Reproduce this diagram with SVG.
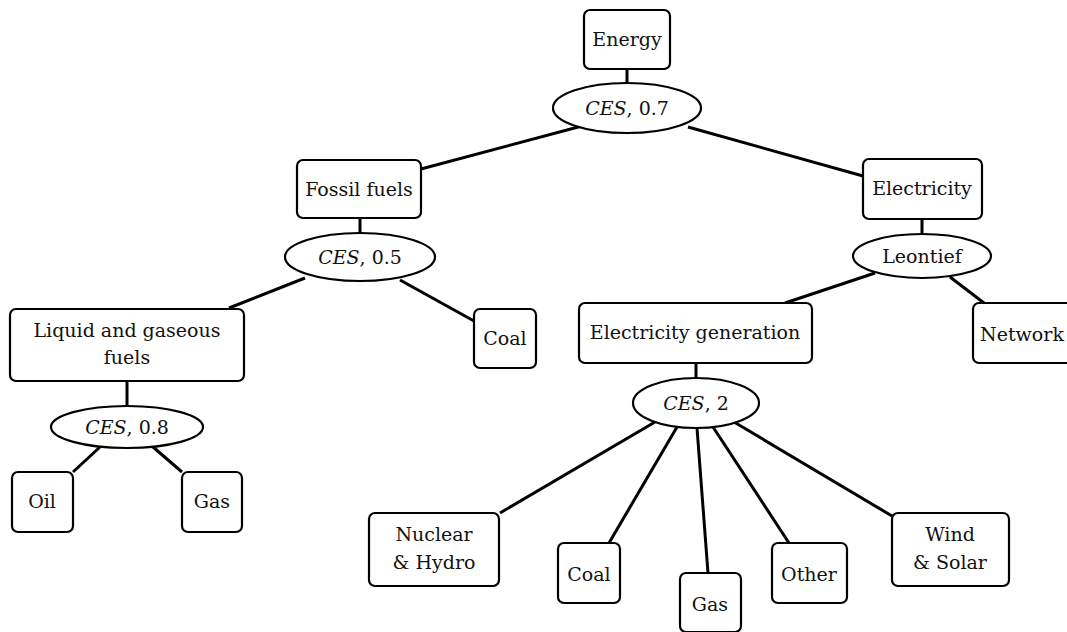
<svg xmlns="http://www.w3.org/2000/svg" width="1067" height="632" viewBox="0 0 1067 632">
<style>
.b{fill:#fff;stroke:#000;stroke-width:2.2}
.e{fill:#fff;stroke:#000;stroke-width:2.2}
.t{font-family:"DejaVu Serif","Liberation Serif",serif;font-size:19px;fill:#111;text-anchor:middle}
.i{font-style:italic}
#edges line{stroke:#000;stroke-width:3}
</style>
<rect width="1067" height="632" fill="#fff"/>
<g id="edges">
<line x1="627" y1="69" x2="627" y2="84"/>
<line x1="582" y1="126" x2="421" y2="169"/>
<line x1="688" y1="127" x2="863" y2="176"/>
<line x1="360" y1="218" x2="360" y2="234"/>
<line x1="305" y1="278" x2="229" y2="308"/>
<line x1="400" y1="280" x2="474" y2="321"/>
<line x1="127" y1="381" x2="127" y2="407"/>
<line x1="100" y1="447" x2="73" y2="472"/>
<line x1="153" y1="447" x2="182" y2="472"/>
<line x1="922" y1="219" x2="922" y2="234"/>
<line x1="875" y1="273" x2="785" y2="303"/>
<line x1="950" y1="277" x2="984" y2="303"/>
<line x1="696" y1="363" x2="696" y2="378"/>
<line x1="655" y1="422" x2="500" y2="513"/>
<line x1="677" y1="427" x2="609" y2="543"/>
<line x1="697" y1="428" x2="708" y2="573"/>
<line x1="713" y1="427" x2="789" y2="543"/>
<line x1="734" y1="422" x2="892" y2="516"/>
</g>
<g id="energy"><rect class="b" x="584" y="10" width="86" height="59" rx="6"/><text class="t" x="627" y="46">Energy</text></g>
<g id="ces07"><ellipse class="e" cx="627" cy="108" rx="74" ry="25"/><text class="t" x="627" y="115"><tspan class="i">CES</tspan>, 0.7</text></g>
<g id="fossil"><rect class="b" x="297" y="160" width="124" height="58" rx="6"/><text class="t" x="359" y="196">Fossil fuels</text></g>
<g id="ces05"><ellipse class="e" cx="360" cy="257" rx="75" ry="24"/><text class="t" x="360" y="264"><tspan class="i">CES</tspan>, 0.5</text></g>
<g id="electricity"><rect class="b" x="863" y="159" width="119" height="60" rx="6"/><text class="t" x="922" y="195">Electricity</text></g>
<g id="leontief"><ellipse class="e" cx="922" cy="256" rx="69" ry="22"/><text class="t" x="922" y="263">Leontief</text></g>
<g id="liquid"><rect class="b" x="10" y="309" width="234" height="72" rx="6"/><text class="t" x="127" y="337">Liquid and gaseous</text><text class="t" x="127" y="364">fuels</text></g>
<g id="coal1"><rect class="b" x="474" y="309" width="62" height="59" rx="6"/><text class="t" x="505" y="345">Coal</text></g>
<g id="elecgen"><rect class="b" x="579" y="303" width="233" height="60" rx="6"/><text class="t" x="695" y="339">Electricity generation</text></g>
<g id="network"><rect class="b" x="973" y="303" width="100" height="60" rx="6"/><text class="t" x="1022" y="341">Network</text></g>
<g id="ces08"><ellipse class="e" cx="127" cy="427" rx="76" ry="21"/><text class="t" x="127" y="434"><tspan class="i">CES</tspan>, 0.8</text></g>
<g id="ces2"><ellipse class="e" cx="696" cy="403" rx="63" ry="25"/><text class="t" x="696" y="410"><tspan class="i">CES</tspan>, 2</text></g>
<g id="oil"><rect class="b" x="12" y="472" width="61" height="60" rx="6"/><text class="t" x="42" y="508">Oil</text></g>
<g id="gas1"><rect class="b" x="182" y="472" width="60" height="60" rx="6"/><text class="t" x="212" y="508">Gas</text></g>
<g id="nuclear"><rect class="b" x="369" y="513" width="130" height="73" rx="6"/><text class="t" x="434" y="541">Nuclear</text><text class="t" x="434" y="569">&amp; Hydro</text></g>
<g id="coal2"><rect class="b" x="558" y="543" width="62" height="60" rx="6"/><text class="t" x="589" y="581">Coal</text></g>
<g id="gas2"><rect class="b" x="680" y="573" width="61" height="59" rx="6"/><text class="t" x="710" y="611">Gas</text></g>
<g id="other"><rect class="b" x="772" y="543" width="75" height="60" rx="6"/><text class="t" x="809" y="581">Other</text></g>
<g id="wind"><rect class="b" x="892" y="513" width="117" height="73" rx="6"/><text class="t" x="950" y="541">Wind</text><text class="t" x="950" y="569">&amp; Solar</text></g>
</svg>
